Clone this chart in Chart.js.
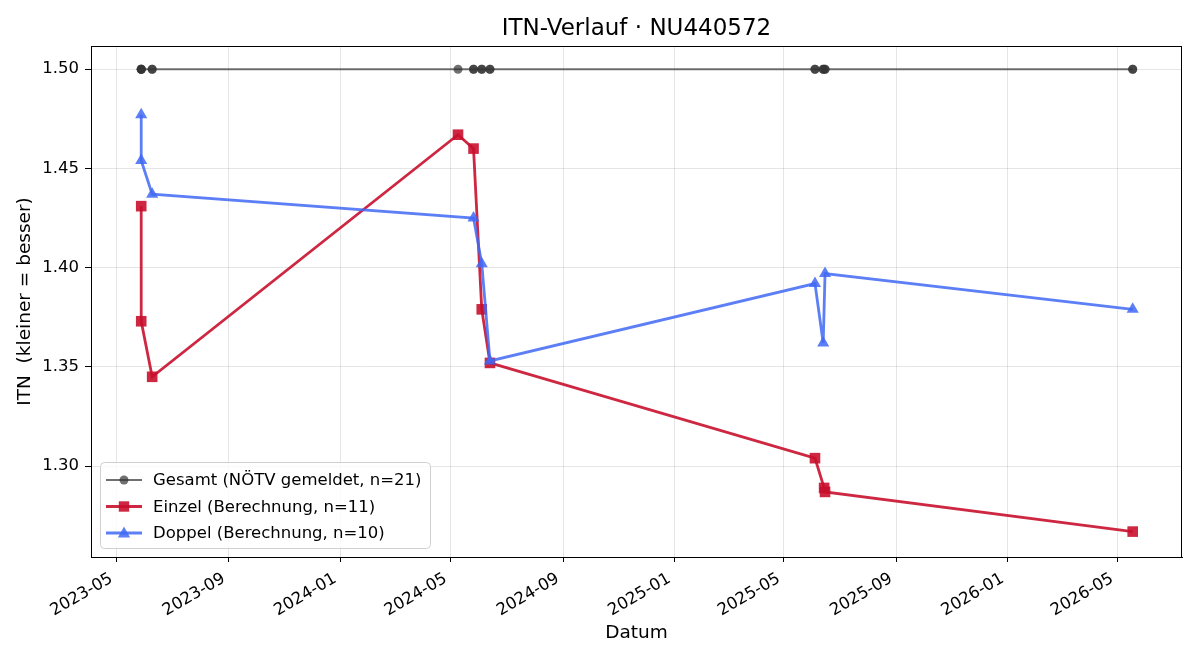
<!DOCTYPE html>
<html>
<head>
<meta charset="utf-8">
<script src="https://cdn.jsdelivr.net/npm/chart.js@4.4.1/dist/chart.umd.min.js"></script>
<style>
  html, body { margin: 0; padding: 0; background: #fff; }
  #wrap { width: 1200px; height: 660px; }
</style>
</head>
<body>
<div id="wrap"><canvas id="itn_chart" width="1200" height="660"></canvas></div>
<script>
// Gesamt (NÖTV gemeldet): one point per match, all at 1.50
var gesamtDates = ['2023-05-28', '2023-05-28', '2023-05-28', '2023-05-28', '2023-06-09', '2023-06-09',
  '2024-05-09', '2024-05-26', '2024-05-26', '2024-06-04', '2024-06-04', '2024-06-13', '2024-06-13',
  '2025-06-04', '2025-06-04', '2025-06-13', '2025-06-13', '2025-06-15', '2025-06-15',
  '2026-05-18', '2026-05-18'];
var gesamtItn = [1.50, 1.50, 1.50, 1.50, 1.50, 1.50, 1.50, 1.50, 1.50, 1.50, 1.50,
  1.50, 1.50, 1.50, 1.50, 1.50, 1.50, 1.50, 1.50, 1.50, 1.50];

// Einzel (Berechnung)
var einzelDates = ['2023-05-28', '2023-05-28', '2023-06-09', '2024-05-09', '2024-05-26', '2024-06-04',
  '2024-06-13', '2025-06-04', '2025-06-14', '2025-06-15', '2026-05-18'];
var einzelItn = [1.431, 1.373, 1.345, 1.467, 1.460, 1.379, 1.352, 1.304, 1.289, 1.287, 1.267];

// Doppel (Berechnung)
var doppelDates = ['2023-05-28', '2023-05-28', '2023-06-09', '2024-05-26', '2024-06-04', '2024-06-13',
  '2025-06-04', '2025-06-13', '2025-06-15', '2026-05-18'];
var doppelItn = [1.477, 1.454, 1.437, 1.425, 1.402, 1.353, 1.392, 1.362, 1.397, 1.379];

// axis ticks
var xTickDates = ['2023-05-01', '2023-09-01', '2024-01-01', '2024-05-01', '2024-09-01',
  '2025-01-01', '2025-05-01', '2025-09-01', '2026-01-01', '2026-05-01'];
var xTickLabels = ['2023-05', '2023-09', '2024-01', '2024-05', '2024-09',
  '2025-01', '2025-05', '2025-09', '2026-01', '2026-05'];
var yTicks = [1.30, 1.35, 1.40, 1.45, 1.50];

var xMin = Date.parse('2023-04-03');
var xMax = Date.parse('2026-07-11');

var FONT = 'DejaVu Sans';

function toPoints(dates, vals) {
  return dates.map(function(d, i) { return { x: Date.parse(d), y: vals[i] }; });
}

var gray = 'rgba(51,51,51,0.7)';
var red = 'rgba(200,16,46,0.9)';
var blue = 'rgba(65,105,245,0.85)';

// legend drawn inside the plot, lower left
var innerLegend = {
  id: 'innerLegend',
  afterDraw: function(chart) {
    var ctx = chart.ctx;
    var a = chart.chartArea;
    // top + right frame
    ctx.save();
    ctx.strokeStyle = '#000';
    ctx.lineWidth = 1;
    ctx.strokeRect(a.left + 0.5, a.top + 0.5, a.right - a.left - 1, a.bottom - a.top);
    ctx.restore();

    var x0 = a.left + 9, y0 = a.bottom - 95, w = 330, h = 86;
    ctx.save();
    ctx.fillStyle = 'rgba(255,255,255,0.8)';
    ctx.strokeStyle = '#d0d0d0';
    ctx.lineWidth = 1;
    ctx.beginPath();
    ctx.roundRect(x0 + 0.5, y0 + 0.5, w, h, 4);
    ctx.fill();
    ctx.stroke();
    ctx.font = '16.5px "' + FONT + '"';
    ctx.textBaseline = 'middle';
    chart.data.datasets.slice().sort(function(p, q) { return q.order - p.order; }).forEach(function(ds, i) {
      var cy = y0 + 18 + i * 26.5;
      ctx.strokeStyle = ds.borderColor;
      ctx.lineWidth = ds.borderWidth;
      ctx.beginPath();
      ctx.moveTo(x0 + 6, cy);
      ctx.lineTo(x0 + 42, cy);
      ctx.stroke();
      ctx.fillStyle = ds.pointBackgroundColor;
      var mx = x0 + 24, r = ds.legendMarker;
      ctx.beginPath();
      if (ds.pointStyle === 'rect') {
        ctx.rect(mx - r, cy - r, 2 * r, 2 * r);
      } else if (ds.pointStyle === 'triangle') {
        ctx.moveTo(mx, cy - r);
        ctx.lineTo(mx + r * 0.95, cy + r * 0.7);
        ctx.lineTo(mx - r * 0.95, cy + r * 0.7);
        ctx.closePath();
      } else {
        ctx.arc(mx, cy, r, 0, Math.PI * 2);
      }
      ctx.fill();
      ctx.fillStyle = '#000';
      ctx.fillText(ds.label, x0 + 53, cy + 1);
    });
    ctx.restore();
  }
};

var itn_chart = new Chart(document.getElementById('itn_chart'), {
  type: 'line',
  data: {
    datasets: [{
      label: 'Gesamt (NÖTV gemeldet, n=21)',
      data: toPoints(gesamtDates, gesamtItn),
      borderColor: gray,
      backgroundColor: gray,
      pointBackgroundColor: gray,
      pointBorderWidth: 0,
      pointStyle: 'circle',
      pointRadius: 4.5,
      legendMarker: 4.5,
      borderWidth: 2,
      order: 2
    }, {
      label: 'Einzel (Berechnung, n=11)',
      data: toPoints(einzelDates, einzelItn),
      borderColor: red,
      backgroundColor: red,
      pointBackgroundColor: red,
      pointBorderWidth: 0,
      pointStyle: 'rect',
      pointRadius: 7.5,
      legendMarker: 5.2,
      borderWidth: 2.8,
      order: 1
    }, {
      label: 'Doppel (Berechnung, n=10)',
      data: toPoints(doppelDates, doppelItn),
      borderColor: blue,
      backgroundColor: blue,
      pointBackgroundColor: blue,
      pointBorderWidth: 0,
      pointStyle: 'triangle',
      pointRadius: 7,
      legendMarker: 6.5,
      borderWidth: 2.8,
      order: 0
    }]
  },
  options: {
    responsive: false,
    animation: false,
    layout: { padding: { left: 0, right: 18, top: 0, bottom: 0 } },
    plugins: {
      legend: { display: false },
      tooltip: { enabled: false },
      title: {
        display: true,
        fullSize: false,
        text: 'ITN-Verlauf · NU440572',
        color: '#000',
        font: { family: FONT, size: 23, weight: 'normal' },
        padding: { top: 15, bottom: 3.4 }
      }
    },
    scales: {
      x: {
        type: 'linear',
        min: xMin,
        max: xMax,
        afterBuildTicks: function(scale) {
          scale.ticks = xTickDates.map(function(d) { return { value: Date.parse(d) }; });
        },
        afterFit: function(scale) { scale.height = 103; },
        ticks: {
          autoSkip: false,
          minRotation: 30,
          maxRotation: 30,
          padding: 7,
          labelOffset: -5,
          color: '#000',
          font: { family: FONT, size: 16.5 },
          callback: function(value, index) { return xTickLabels[index]; }
        },
        grid: { color: 'rgba(0,0,0,0.1)', tickColor: '#000', tickLength: 5 },
        border: { display: true, color: '#000', width: 1 },
        title: {
          display: true,
          text: 'Datum',
          color: '#000',
          font: { family: FONT, size: 18.5 },
          padding: { top: 4, bottom: 16 }
        }
      },
      y: {
        min: 1.2542,
        max: 1.5117,
        afterBuildTicks: function(scale) {
          scale.ticks = yTicks.map(function(v) { return { value: v }; });
        },
        afterFit: function(scale) { scale.width = 91; },
        ticks: {
          padding: 6,
          color: '#000',
          font: { family: FONT, size: 16.5 },
          callback: function(value) { return value.toFixed(2); }
        },
        grid: { color: 'rgba(0,0,0,0.1)', tickColor: '#000', tickLength: 6 },
        border: { display: true, color: '#000', width: 1 },
        title: {
          display: true,
          text: 'ITN  (kleiner = besser)',
          color: '#000',
          font: { family: FONT, size: 18.5 },
          padding: { top: 14, bottom: 4 }
        }
      }
    }
  },
  plugins: [innerLegend]
});
</script>
</body>
</html>
